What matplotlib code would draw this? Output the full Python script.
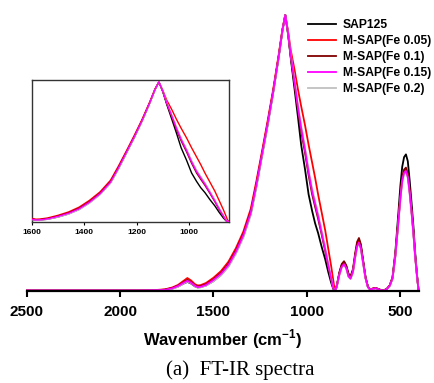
import numpy as np
import matplotlib
matplotlib.use('Agg')
import matplotlib.pyplot as plt

plt.rcParams['font.family'] = ['Liberation Sans', 'DejaVu Sans']
plt.rcParams['mathtext.fontset'] = 'custom'
plt.rcParams['mathtext.rm'] = 'Liberation Sans:bold'
plt.rcParams['mathtext.bf'] = 'Liberation Sans:bold'

# Datos (numero de onda en cm-1, absorbancia normalizada)
wavenumber = [2500, 2400, 2300, 2200, 2100, 2000, 1900, 1800,
              1760, 1720, 1690, 1660, 1640, 1620, 1600, 1585, 1570, 1540,
              1500, 1460, 1420, 1380, 1340, 1300, 1270, 1240, 1210, 1180, 1150, 1130, 1115,
              1100, 1085, 1065, 1047, 1030, 1009, 990, 971, 955, 939, 920, 901, 885, 869, 858, 850,
              840, 825, 812, 800, 788, 776, 765, 752, 740, 730, 720, 710, 698, 685, 672, 660, 645, 630, 615, 600,
              585, 570, 555, 540, 525, 510, 498, 488, 478, 468, 458, 448, 438, 428, 418, 408, 400]

sap125 = [0.002, 0.002, 0.002, 0.002, 0.002, 0.002, 0.002, 0.003,
          0.004, 0.009, 0.016, 0.027, 0.033, 0.027, 0.017, 0.013, 0.014, 0.020,
          0.036, 0.058, 0.090, 0.138, 0.198, 0.280, 0.380, 0.490, 0.600, 0.720, 0.850, 0.945, 1.000,
          0.930, 0.840, 0.730, 0.630, 0.530, 0.440, 0.350, 0.290, 0.245, 0.210, 0.160, 0.115, 0.070, 0.030, 0.008, 0.000,
          0.015, 0.065, 0.095, 0.105, 0.090, 0.060, 0.050, 0.075, 0.130, 0.170, 0.185, 0.165, 0.110, 0.050, 0.015, 0.005, 0.008, 0.010, 0.006, 0.002,
          0.002, 0.008, 0.020, 0.050, 0.140, 0.270, 0.380, 0.450, 0.485, 0.495, 0.470, 0.400, 0.320, 0.235, 0.135, 0.055, 0.000]

fe005 = [0.003, 0.003, 0.003, 0.003, 0.003, 0.003, 0.003, 0.004,
         0.006, 0.013, 0.022, 0.037, 0.047, 0.038, 0.025, 0.020, 0.021, 0.029,
         0.048, 0.072, 0.106, 0.155, 0.215, 0.298, 0.398, 0.505, 0.615, 0.730, 0.858, 0.950, 1.000,
         0.940, 0.870, 0.800, 0.730, 0.670, 0.600, 0.530, 0.465, 0.410, 0.350, 0.285, 0.220, 0.155, 0.090, 0.040, 0.003,
         0.012, 0.060, 0.090, 0.100, 0.085, 0.055, 0.047, 0.070, 0.125, 0.165, 0.180, 0.160, 0.105, 0.048, 0.015, 0.006, 0.009, 0.011, 0.007, 0.003,
         0.003, 0.008, 0.020, 0.047, 0.128, 0.243, 0.340, 0.405, 0.435, 0.440, 0.420, 0.360, 0.290, 0.212, 0.122, 0.050, 0.000]

fe01 = [0.002, 0.002, 0.002, 0.002, 0.002, 0.002, 0.002, 0.003,
        0.005, 0.011, 0.019, 0.032, 0.040, 0.032, 0.021, 0.016, 0.017, 0.024,
        0.042, 0.065, 0.098, 0.146, 0.206, 0.288, 0.388, 0.497, 0.607, 0.723, 0.852, 0.946, 1.000,
        0.932, 0.845, 0.745, 0.655, 0.580, 0.500, 0.420, 0.350, 0.305, 0.262, 0.205, 0.145, 0.090, 0.042, 0.011, 0.000,
        0.016, 0.068, 0.098, 0.108, 0.093, 0.063, 0.053, 0.080, 0.138, 0.178, 0.192, 0.170, 0.113, 0.052, 0.016, 0.006, 0.009, 0.011, 0.007, 0.003,
        0.003, 0.008, 0.020, 0.047, 0.130, 0.245, 0.345, 0.410, 0.440, 0.447, 0.425, 0.365, 0.292, 0.214, 0.123, 0.050, 0.000]

fe015 = [0.002, 0.002, 0.002, 0.002, 0.002, 0.002, 0.002, 0.003,
         0.004, 0.010, 0.018, 0.030, 0.037, 0.030, 0.019, 0.014, 0.015, 0.022,
         0.040, 0.062, 0.094, 0.142, 0.202, 0.284, 0.384, 0.494, 0.604, 0.720, 0.850, 0.945, 1.000,
         0.935, 0.850, 0.755, 0.665, 0.590, 0.510, 0.430, 0.360, 0.315, 0.270, 0.210, 0.150, 0.095, 0.045, 0.012, 0.000,
         0.014, 0.060, 0.088, 0.097, 0.083, 0.053, 0.045, 0.070, 0.124, 0.162, 0.175, 0.155, 0.103, 0.047, 0.014, 0.005, 0.008, 0.010, 0.006, 0.002,
         0.002, 0.007, 0.019, 0.045, 0.125, 0.238, 0.333, 0.398, 0.428, 0.435, 0.413, 0.355, 0.285, 0.208, 0.120, 0.049, 0.000]

fe02 = [0.002, 0.002, 0.002, 0.002, 0.002, 0.002, 0.002, 0.002,
        0.003, 0.008, 0.015, 0.027, 0.034, 0.028, 0.017, 0.012, 0.013, 0.019,
        0.035, 0.056, 0.087, 0.134, 0.194, 0.276, 0.376, 0.487, 0.598, 0.716, 0.847, 0.943, 1.000,
        0.937, 0.855, 0.762, 0.675, 0.600, 0.520, 0.440, 0.370, 0.325, 0.280, 0.220, 0.158, 0.100, 0.048, 0.013, 0.000,
        0.013, 0.058, 0.086, 0.095, 0.081, 0.051, 0.043, 0.068, 0.120, 0.158, 0.171, 0.151, 0.100, 0.045, 0.013, 0.005, 0.007, 0.009, 0.005, 0.002,
        0.002, 0.007, 0.018, 0.044, 0.123, 0.235, 0.330, 0.394, 0.424, 0.430, 0.409, 0.351, 0.282, 0.206, 0.118, 0.048, 0.000]

labels = ['SAP125', 'M-SAP(Fe 0.05)', 'M-SAP(Fe 0.1)', 'M-SAP(Fe 0.15)', 'M-SAP(Fe 0.2)']
series = [sap125, fe005, fe01, fe015, fe02]
colors = ['black', '#ff0000', '#800000', '#ff00ff', '#c0c0c0']
zorders = [2, 3, 4, 6, 5]

# Figura principal
fig = plt.figure(figsize=(4.35, 3.83), dpi=100)
ax = fig.add_axes([27/435, 1 - 291/383, 392/435, 281/383])
for y, lab, c, z in zip(series, labels, colors, zorders):
    ax.plot(wavenumber, y, color=c, lw=1.3, label=lab, zorder=z, clip_on=False)

ax.set_xlim(2500, 398)
ax.set_ylim(0, 281/276)
ax.set_xticks([2500, 2000, 1500, 1000, 500])
ax.set_yticks([])
for s in ['left', 'right', 'top']:
    ax.spines[s].set_visible(False)
ax.spines['bottom'].set_linewidth(1.6)
ax.spines['bottom'].set_zorder(10)
ax.tick_params(axis='x', direction='out', length=4, width=1.5, labelsize=11, pad=6)
for t in ax.get_xticklabels():
    t.set_fontweight('bold')
ax.set_xlabel(r'Wavenumber (cm$^{-1}$)', fontsize=12, fontweight='bold', labelpad=6)

handles, labs = ax.get_legend_handles_labels()
ax.legend(handles, labs, loc='upper right', bbox_to_anchor=(436/435, 1 - 14/383),
          bbox_transform=fig.transFigure, frameon=False,
          prop={'weight': 'bold', 'size': 8.7}, handlelength=2.3, handletextpad=0.6,
          labelspacing=0.34, borderaxespad=0)

# Recuadro interior (zoom 1600-850)
axin = fig.add_axes([32/435, 1 - 222/383, 197/435, 142/383])
for y, c, z in zip(series, colors, zorders):
    axin.plot(wavenumber, y, color=c, lw=1.0, zorder=z)
axin.set_xlim(1600, 847)
axin.set_ylim(0, 1.014)
axin.set_xticks([1600, 1400, 1200, 1000])
axin.set_yticks([])
for s in axin.spines.values():
    s.set_linewidth(1.0)
    s.set_color('#333333')
axin.tick_params(axis='x', direction='out', length=2, width=0.8, labelsize=6, pad=3)
for t in axin.get_xticklabels():
    t.set_fontweight('bold')

fig.text(240/435, 1 - 370/383, '(a)  FT-IR spectra', family='Liberation Serif',
         fontsize=15, ha='center', va='center')

plt.savefig('out.png', dpi=100)
